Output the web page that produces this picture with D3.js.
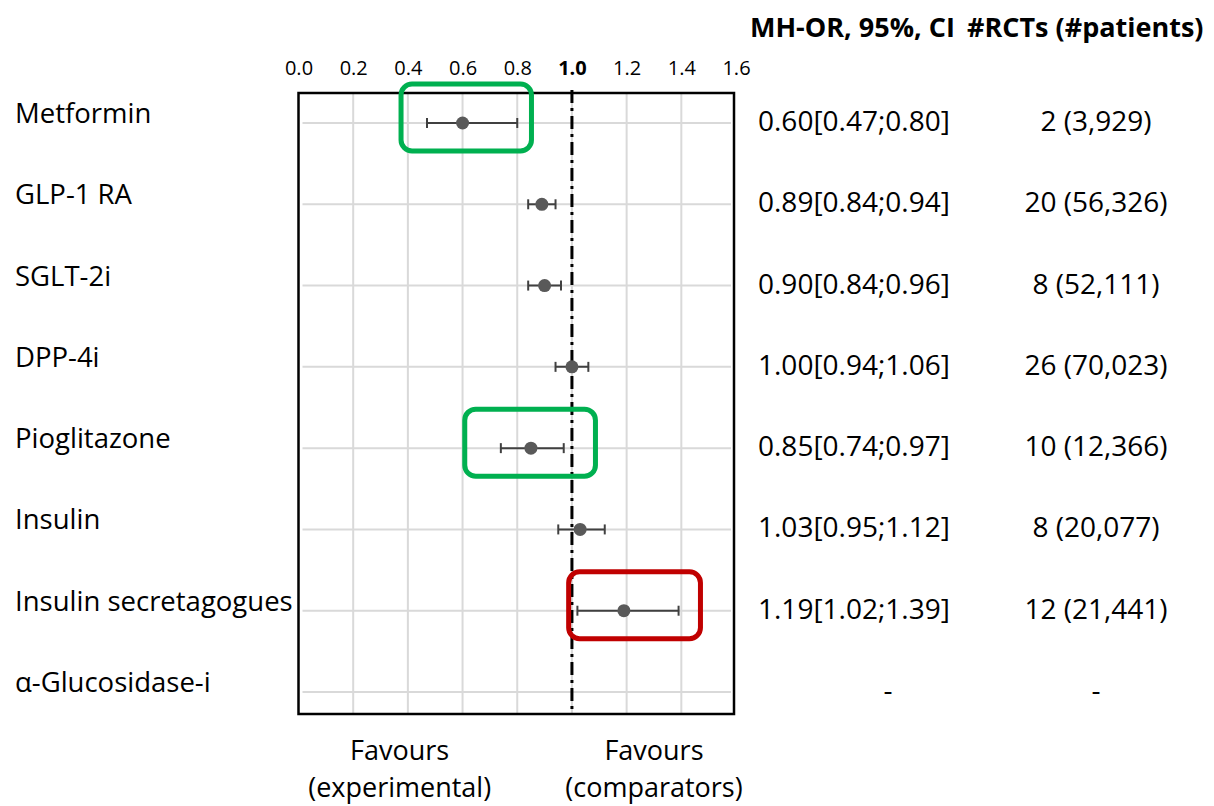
<!DOCTYPE html>
<html>
<head>
<meta charset="utf-8">
<script src="https://cdn.jsdelivr.net/npm/d3@7"></script>
<style>
  html, body { margin: 0; padding: 0; background: #fff; }
  svg { display: block; }
  text { font-family: "Open Sans", "Noto Sans", sans-serif; fill: #000; }
</style>
</head>
<body>
<svg id="chart" width="1214" height="806"></svg>
<script>
// ---- data ----
const categories = ["Metformin", "GLP-1 RA", "SGLT-2i", "DPP-4i", "Pioglitazone", "Insulin", "Insulin secretagogues", "\u03b1-Glucosidase-i"];
const orValues = [0.60, 0.89, 0.90, 1.00, 0.85, 1.03, 1.19, null];
const ciLower  = [0.47, 0.84, 0.84, 0.94, 0.74, 0.95, 1.02, null];
const ciUpper  = [0.80, 0.94, 0.96, 1.06, 0.97, 1.12, 1.39, null];
const rctLabels = ["2 (3,929)", "20 (56,326)", "8 (52,111)", "26 (70,023)", "10 (12,366)", "8 (20,077)", "12 (21,441)", "-"];
const tickValues = [0.0, 0.2, 0.4, 0.6, 0.8, 1.0, 1.2, 1.4, 1.6];
const headers = ["MH-OR, 95%, CI", "#RCTs (#patients)"];
const favourLabels = [["Favours", "(experimental)"], ["Favours", "(comparators)"]];
const favourPositions = [0.37, 1.30];
// highlighted rows: [category, x from, x to, colour]
const highlights = [
  ["Metformin", 0.375, 0.852, "#00b050"],
  ["Pioglitazone", 0.608, 1.086, "#00b050"],
  ["Insulin secretagogues", 0.988, 1.47, "#c00000"]
];

// ---- layout ----
const svg = d3.select("#chart");
const plotTop = 93, plotBottom = 714, plotLeft = 298.5, plotRight = 734;
const x = d3.scaleLinear().domain([0, 1.6]).range([298.5, 736]);
const y = d3.scalePoint().domain(categories).range([123, 692]);
const grid = "#d9d9d9";

// vertical grid lines
svg.append("g").selectAll("line")
  .data(tickValues.filter(t => t > 0 && t < 1.6))
  .join("line")
  .attr("x1", d => x(d)).attr("x2", d => x(d))
  .attr("y1", plotTop).attr("y2", plotBottom)
  .attr("stroke", grid).attr("stroke-width", 2);

// horizontal grid lines
svg.append("g").selectAll("line")
  .data(categories)
  .join("line")
  .attr("x1", plotLeft + 4).attr("x2", plotRight - 3)
  .attr("y1", d => y(d)).attr("y2", d => y(d))
  .attr("stroke", grid).attr("stroke-width", 2);

// reference line at 1.0
svg.append("line")
  .attr("x1", x(1)).attr("x2", x(1))
  .attr("y1", plotTop - 3).attr("y2", plotBottom)
  .attr("stroke", "#000").attr("stroke-width", 3)
  .attr("stroke-dasharray", "13,5,3,5");

// frame
svg.append("rect")
  .attr("x", plotLeft).attr("y", plotTop)
  .attr("width", plotRight - plotLeft).attr("height", plotBottom - plotTop)
  .attr("fill", "none").attr("stroke", "#000").attr("stroke-width", 2.5);

// top axis
const axis = svg.append("g")
  .attr("transform", `translate(0,${plotTop})`)
  .call(d3.axisTop(x).tickValues(tickValues).tickSize(0).tickPadding(18).tickFormat(d3.format(".1f")));
axis.select(".domain").remove();
axis.selectAll("text")
  .style("font-family", "'Open Sans', sans-serif")
  .style("font-size", "20px")
  .attr("fill", "#000")
  .style("font-weight", d => d === 1 ? "bold" : "normal");

// highlight boxes
svg.append("g").selectAll("rect")
  .data(highlights)
  .join("rect")
  .attr("x", d => x(d[1])).attr("width", d => x(d[2]) - x(d[1]))
  .attr("y", d => y(d[0]) - 39).attr("height", 67)
  .attr("rx", 11).attr("ry", 11)
  .attr("fill", "none").attr("stroke", d => d[3]).attr("stroke-width", 5);

// data rows
const rows = categories.map((c, i) => ({ c, or: orValues[i], lo: ciLower[i], hi: ciUpper[i] }))
  .filter(d => d.or !== null);
const eb = svg.append("g");
const barColor = "#404040";
eb.selectAll("line.ci").data(rows).join("line").attr("class", "ci")
  .attr("x1", d => x(d.lo)).attr("x2", d => x(d.hi))
  .attr("y1", d => y(d.c)).attr("y2", d => y(d.c))
  .attr("stroke", barColor).attr("stroke-width", 2);
eb.selectAll("line.capl").data(rows).join("line").attr("class", "capl")
  .attr("x1", d => x(d.lo)).attr("x2", d => x(d.lo))
  .attr("y1", d => y(d.c) - 5).attr("y2", d => y(d.c) + 5)
  .attr("stroke", barColor).attr("stroke-width", 2);
eb.selectAll("line.caph").data(rows).join("line").attr("class", "caph")
  .attr("x1", d => x(d.hi)).attr("x2", d => x(d.hi))
  .attr("y1", d => y(d.c) - 5).attr("y2", d => y(d.c) + 5)
  .attr("stroke", barColor).attr("stroke-width", 2);
eb.selectAll("circle").data(rows).join("circle")
  .attr("cx", d => x(d.or)).attr("cy", d => y(d.c)).attr("r", 6.5)
  .attr("fill", "#595959");

// category labels
svg.append("g").selectAll("text")
  .data(categories)
  .join("text")
  .attr("x", 15).attr("y", d => y(d))
  .style("font-size", "27.5px")
  .text(d => d);

// OR text column
const fmt = d3.format(".2f");
svg.append("g").selectAll("text")
  .data(categories.map((c, i) => ({ c, i })))
  .join("text")
  .attr("x", d => orValues[d.i] === null ? 888 : 758)
  .attr("text-anchor", d => orValues[d.i] === null ? "middle" : "start")
  .attr("y", d => y(d.c) + 8)
  .style("font-size", "28px")
  .text(d => orValues[d.i] === null ? "-" :
    `${fmt(orValues[d.i])}[${fmt(ciLower[d.i])};${fmt(ciUpper[d.i])}]`);

// RCT column
svg.append("g").selectAll("text")
  .data(categories.map((c, i) => ({ c, i })))
  .join("text")
  .attr("x", 1096)
  .attr("text-anchor", "middle")
  .attr("y", d => y(d.c) + 8)
  .style("font-size", "28px")
  .text(d => rctLabels[d.i]);

// headers
svg.append("text").attr("x", 750).attr("y", 37)
  .style("font-size", "27px").style("font-weight", "bold").text(headers[0]);
svg.append("text").attr("x", 967).attr("y", 37)
  .style("font-size", "27px").style("font-weight", "bold").text(headers[1]);

// favours labels
favourLabels.forEach((lines, k) => {
  const t = svg.append("text")
    .attr("text-anchor", "middle")
    .style("font-size", "27px");
  lines.forEach((s, j) => {
    t.append("tspan").attr("x", x(favourPositions[k])).attr("y", 760 + j * 37).text(s);
  });
});
</script>
</body>
</html>
